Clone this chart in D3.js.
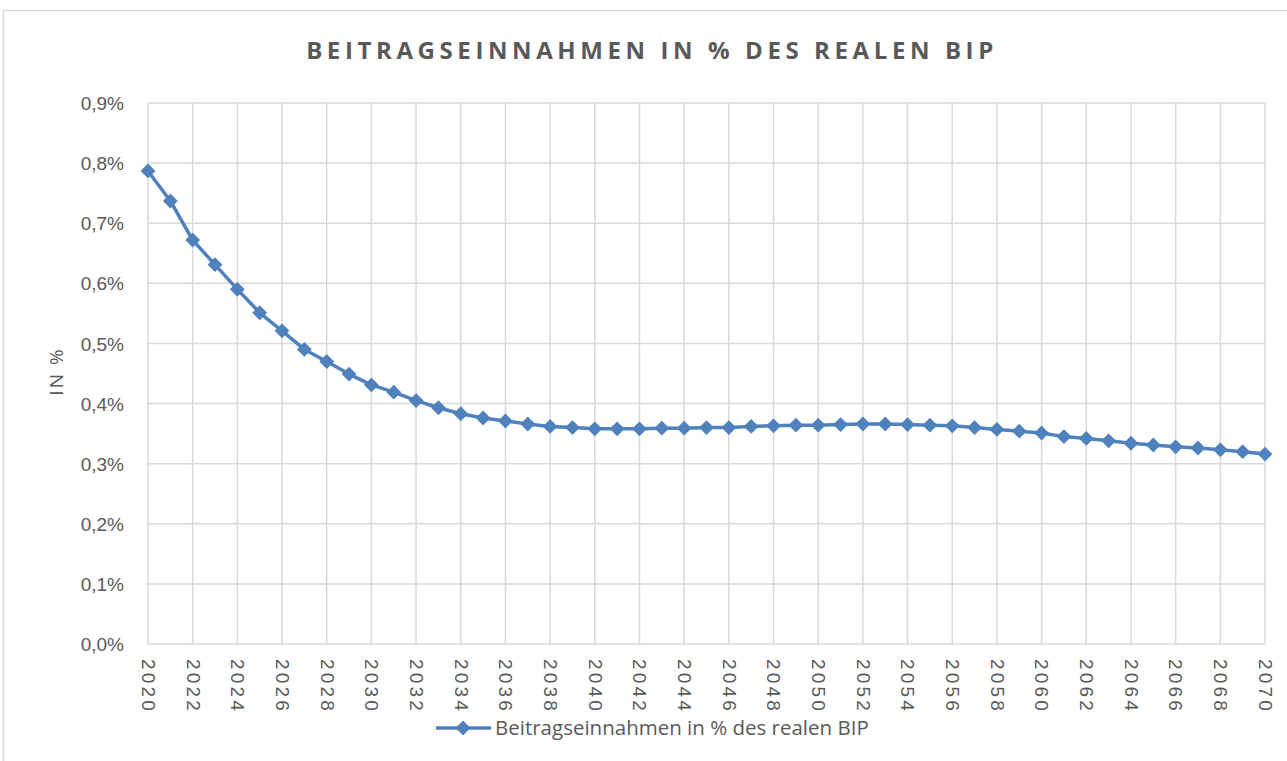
<!DOCTYPE html>
<html>
<head>
<meta charset="utf-8">
<script src="https://cdn.jsdelivr.net/npm/d3@7"></script>
<style>
  body { margin: 0; background: #fff; }
  svg { display: block; font-family: "Open Sans", "Liberation Sans", sans-serif; }
  .grid line { stroke: #d9d9d9; stroke-width: 1.5; }
  .axis text { fill: #595959; font-size: 19px; }
</style>
</head>
<body>
<svg id="chart" width="1287" height="761"></svg>
<script>
const years = d3.range(2020, 2071);
const values = [
  0.787, 0.737, 0.672, 0.631, 0.590, 0.551, 0.521, 0.490, 0.470, 0.449,
  0.431, 0.419, 0.405, 0.393, 0.383, 0.376, 0.371, 0.366, 0.362, 0.360,
  0.358, 0.358, 0.358, 0.359, 0.359, 0.360, 0.360, 0.362, 0.363, 0.364,
  0.364, 0.365, 0.366, 0.366, 0.365, 0.364, 0.363, 0.360, 0.357, 0.354,
  0.351, 0.345, 0.342, 0.338, 0.334, 0.331, 0.328, 0.326, 0.323, 0.320,
  0.316
];
const yTicks = [0, 0.1, 0.2, 0.3, 0.4, 0.5, 0.6, 0.7, 0.8, 0.9];
const xTicks = d3.range(2020, 2071, 2);
const title = "BEITRAGSEINNAHMEN IN % DES REALEN BIP";
const seriesName = "Beitragseinnahmen in % des realen BIP";

const svg = d3.select("#chart");
const color = "#4f81bd";
const margin = { top: 103, right: 22, bottom: 117, left: 148 };
const width = 1287, height = 761;

// outer chart frame
svg.append("rect")
  .attr("x", 3.5).attr("y", 10.5)
  .attr("width", 1300).attr("height", 800)
  .attr("fill", "none").attr("stroke", "#d9d9d9").attr("stroke-width", 1.5);

const x = d3.scaleLinear().domain([2020, 2070]).range([margin.left, width - margin.right]);
const y = d3.scaleLinear().domain([0, 0.9]).range([height - margin.bottom, margin.top]);

svg.append("text")
  .attr("x", 652).attr("y", 59)
  .attr("text-anchor", "middle")
  .attr("fill", "#595959")
  .attr("font-size", 24)
  .attr("font-weight", 700)
  .attr("letter-spacing", 4.6)
  .text(title);

// grid
svg.append("g").attr("class", "grid")
  .selectAll("line.h").data(yTicks).join("line")
  .attr("x1", x(2020)).attr("x2", x(2070))
  .attr("y1", d => y(d)).attr("y2", d => y(d));
svg.append("g").attr("class", "grid")
  .selectAll("line.v").data(xTicks).join("line")
  .attr("x1", d => x(d)).attr("x2", d => x(d))
  .attr("y1", y(0)).attr("y2", y(0.9));

// y axis
svg.append("g").attr("class", "axis")
  .attr("transform", `translate(${margin.left - 21},0)`)
  .call(d3.axisLeft(y).tickValues(yTicks).tickSize(0)
    .tickFormat(d => d3.format(".1f")(d).replace(".", ",") + "%"))
  .call(g => g.select(".domain").remove())
  .selectAll("text").attr("dy", "0.35em");

// x axis, labels rotated
svg.append("g").attr("class", "axis")
  .attr("transform", `translate(0,${y(0)})`)
  .call(d3.axisBottom(x).tickValues(xTicks).tickSize(0).tickFormat(d3.format("d")))
  .call(g => g.select(".domain").remove())
  .selectAll("text")
  .attr("transform", "rotate(90)")
  .attr("y", 0).attr("x", 15)
  .attr("dy", "0.35em")
  .attr("text-anchor", "start")
  .attr("letter-spacing", 3.2);

svg.append("text")
  .attr("transform", `translate(63,${(y(0) + y(0.9)) / 2 - 2}) rotate(-90)`)
  .attr("text-anchor", "middle")
  .attr("fill", "#595959")
  .attr("font-size", 19)
  .attr("letter-spacing", 2)
  .text("IN %");

// series
const pts = years.map((yr, i) => ({ year: yr, value: values[i] }));
svg.append("path").datum(pts)
  .attr("fill", "none").attr("stroke", color).attr("stroke-width", 3.5)
  .attr("stroke-linejoin", "round")
  .attr("d", d3.line().x(d => x(d.year)).y(d => y(d.value)));

const diamond = d3.symbol().type(d3.symbolSquare).size(110);
svg.append("g").selectAll("path").data(pts).join("path")
  .attr("d", diamond)
  .attr("fill", color)
  .attr("transform", d => `translate(${x(d.year)},${y(d.value)}) rotate(45)`);

// legend
const lg = svg.append("g").attr("transform", "translate(436,728)");
lg.append("line").attr("x1", 0).attr("x2", 55).attr("stroke", color).attr("stroke-width", 3.5);
lg.append("path").attr("d", diamond).attr("fill", color).attr("transform", "translate(27,0) rotate(45)");
lg.append("text").attr("x", 59).attr("dy", "0.35em")
  .attr("fill", "#595959").attr("font-size", 20.5).text(seriesName);
</script>
</body>
</html>
